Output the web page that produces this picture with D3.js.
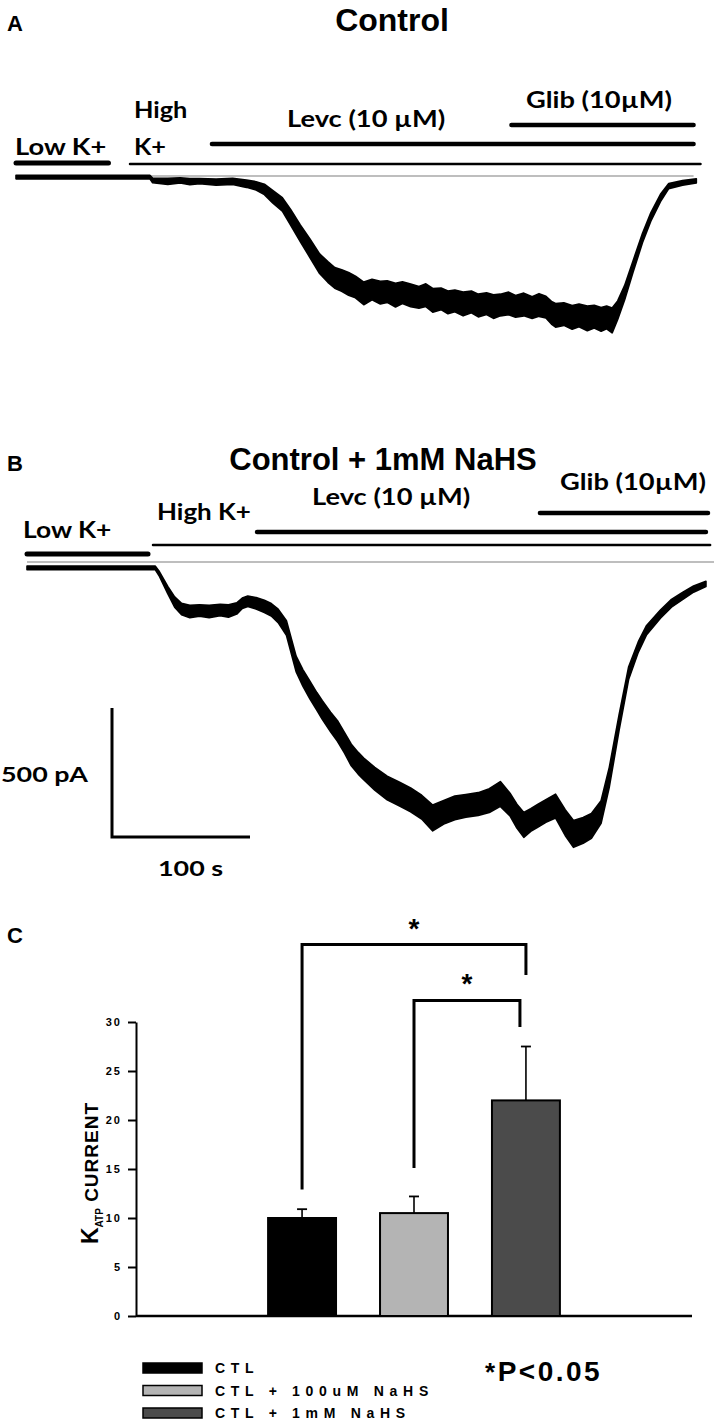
<!DOCTYPE html>
<html><head><meta charset="utf-8">
<script src="https://cdn.jsdelivr.net/npm/d3@7"></script>
<style>body{margin:0;background:#fff}svg{display:block}</style>
</head><body>
<svg id="c" width="714" height="1422"></svg>
<script>
// ---------- DATA ----------
// Panel A trace (time s, current pA, half-width of noise band pA)
const timeA    = [0,97,99,110,119,126,133,145,157,167,174,180,186,193,199,206,213,220,226,231,236,241,246,252,258,264,269,275,280,286,292,297,302,308,313,318,324,330,335,341,346,351,357,362,368,374,379,384,388,391,397,403,408,414,419,424,428,432,436,441,447,454,460,467,473,483,493];
const currentA = [-4,-4,-17,-21,-17,-22,-20,-24,-21,-30,-38,-52,-80,-110,-160,-222,-280,-340,-372,-395,-405,-418,-430,-455,-440,-452,-448,-462,-452,-463,-470,-462,-482,-476,-490,-484,-496,-488,-502,-495,-506,-500,-494,-505,-498,-510,-500,-508,-530,-540,-535,-548,-540,-552,-545,-556,-548,-560,-520,-453,-353,-240,-159,-85,-39,-27,-19];
const noiseA   = [7,7,9,12,10,12,10,12,12,14,16,20,24,26,30,32,36,38,40,40,42,44,42,44,40,44,42,46,42,44,42,44,46,42,44,42,46,42,44,42,46,42,44,42,44,42,44,42,44,46,44,46,44,48,44,46,44,48,36,28,22,18,16,14,10,9,8];
// Panel B trace
const timeB    = [0,93,96,102,107,112,118,125,132,140,146,152,156,160,166,172,177,182,188,195,200,205,210,214,220,225,230,235,240,244,252,261,270,278,286,294,302,310,318,327,335,343,350,355,360,365,370,376,383,390,396,403,409,416,422,429,436,443,449,459,467,475,483,492];
const currentB = [-23,-23,-47,-109,-155,-182,-192,-188,-192,-186,-190,-180,-160,-152,-160,-172,-185,-209,-256,-395,-450,-496,-540,-574,-620,-655,-700,-748,-780,-802,-840,-876,-900,-922,-950,-992,-970,-953,-945,-938,-925,-899,-940,-985,-1019,-1000,-984,-965,-946,-1010,-1054,-1040,-1023,-969,-833,-624,-430,-329,-264,-202,-160,-132,-105,-85];
const noiseB   = [7,7,9,14,20,22,24,22,24,22,24,22,20,20,22,24,24,26,28,30,32,34,34,36,38,40,40,42,42,42,44,46,46,46,46,50,46,46,44,44,46,48,44,46,48,44,44,44,46,50,52,50,48,44,38,30,24,20,18,16,15,14,12,10];
// Solution application periods (s)
const solutionsA = [
  {name:"Low K+", start:0, end:67},
  {name:"High K+", start:82.6, end:496},
  {name:"Levc (10 µM)", start:142, end:491},
  {name:"Glib (10µM)", start:359, end:491}
];
const solutionsB = [
  {name:"Low K+", start:0, end:87.7},
  {name:"High K+", start:91.3, end:495},
  {name:"Levc (10 µM)", start:166.7, end:492},
  {name:"Glib (10µM)", start:371.7, end:493.5}
];
const baselineSpan = [0, 491];
const scaleBar = {current:500, time:100};
// Panel C
const groups = ["CTL", "CTL + 100uM NaHS", "CTL + 1mM NaHS"];
const means  = [10.0, 10.5, 22.0];
const errors = [0.9, 1.7, 5.5];
const yTicks = [0,5,10,15,20,25,30];
const comparisons = [
  {a:0, b:2, top:37.9, leftEnd:12.9, rightEnd:34.8},
  {a:1, b:2, top:32.2, leftEnd:15.1, rightEnd:29.5}
];
const barColors = ["#000000", "#b4b4b4", "#4b4b4b"];

// ---------- DRAW ----------
const svg = d3.select("#c");
const CAL = "Lato, 'Open Sans', sans-serif";
const ARB = "'Liberation Sans', Arial, sans-serif";

function txt(s, x, y, size, opts={}) {
  const t = svg.append("text")
    .attr("transform", `translate(${x},${y}) scale(${opts.sx||1},1)`)
    .attr("font-family", opts.family || CAL)
    .attr("font-size", size)
    .attr("font-weight", opts.weight || "normal")
    .attr("text-anchor", opts.anchor || "start")
    .attr("fill", "#000")
    .text(s);
  if (opts.ls) t.attr("letter-spacing", opts.ls);
  return t;
}
const lab = (s, x, y, sx) => txt(s, x, y, 22, {weight: "bold", sx: sx || 1.24});

const pxPerSec = 1.38;
const pxPerPA = 129/500;

function panel(cfg) {
  const x = d3.scaleLinear().domain([0, 500]).range([cfg.x0, cfg.x0 + 500*pxPerSec]);
  const y = d3.scaleLinear().domain([0, -500]).range([cfg.y0, cfg.y0 + 500*pxPerPA]);
  cfg.solutions.forEach((s, k) => {
    svg.append("line")
      .attr("x1", x(s.start)).attr("x2", x(s.end))
      .attr("y1", cfg.barY[k]).attr("y2", cfg.barY[k])
      .attr("stroke", "#000").attr("stroke-width", cfg.barW[k])
      .attr("stroke-linecap", "round");
  });
  svg.append("line")
    .attr("x1", x(baselineSpan[0])).attr("x2", x(baselineSpan[1]) + cfg.baseExt)
    .attr("y1", y(0)).attr("y2", y(0))
    .attr("stroke", "#a8a8a8").attr("stroke-width", 1.5);
  const data = cfg.t.map((t, k) => ({t, i: cfg.i[k], n: cfg.n[k]}));
  const area = d3.area()
    .x(d => x(d.t))
    .y0(d => y(d.i + d.n))
    .y1(d => y(d.i - d.n));
  svg.append("path").datum(data)
    .attr("d", area)
    .attr("fill", "#000").attr("stroke", "#000").attr("stroke-width", 1.6)
    .attr("stroke-linejoin", "round");
  return {x, y};
}

// Panel A
txt("A", 7, 31, 22, {family: ARB, weight: "bold"});
txt("Control", 392, 31, 32, {family: ARB, weight: "bold", anchor: "middle"});
const pA = panel({x0: 16, y0: 176, t: timeA, i: currentA, n: noiseA, solutions: solutionsA,
  barY: [163, 164, 144, 125], barW: [5, 2.5, 4.5, 4.5], baseExt: 0});
lab("Low K+", 15, 155);
lab("High", 134, 118, 1.15);
lab("K+", 134, 155, 1.15);
lab("Levc (10 µM)", 287, 127);
lab("Glib (10µM)", 526, 108);

// Panel B
txt("B", 7, 471, 22, {family: ARB, weight: "bold"});
txt("Control + 1mM NaHS", 383, 470, 31, {family: ARB, weight: "bold", anchor: "middle"});
const pB = panel({x0: 27, y0: 562, t: timeB, i: currentB, n: noiseB, solutions: solutionsB,
  barY: [554, 545, 532, 513], barW: [5, 2.5, 4.5, 4.5], baseExt: 10});
lab("Low K+", 23, 538, 1.2);
lab("High K+", 157, 520, 1.18);
lab("Levc (10 µM)", 312, 505);
lab("Glib (10µM)", 560, 490);

// scale bar
const sbX = 112, sbY = 837;
const lenI = pB.y(-scaleBar.current) - pB.y(0);
const lenT = pB.x(scaleBar.time) - pB.x(0);
svg.append("path")
  .attr("d", `M${sbX},${sbY - lenI}V${sbY}H${sbX + lenT}`)
  .attr("fill", "none").attr("stroke", "#000").attr("stroke-width", 3);
txt("500 pA", 1, 782, 21, {weight: "bold", sx: 1.28});
txt("100 s", 158, 876, 21, {weight: "bold", sx: 1.28});

// Panel C
txt("C", 7, 943, 22, {family: ARB, weight: "bold"});
const yC = d3.scaleLinear().domain([0, 30]).range([1316, 1022]);
const xC = d3.scaleBand().domain(groups).range([136, 692]).paddingInner(0.393).paddingOuter(1.18);

const yAxis = svg.append("g").attr("transform", "translate(136,0)")
  .call(d3.axisLeft(yC).tickValues(yTicks).tickSize(8).tickSizeOuter(0).tickPadding(6));
yAxis.select(".domain").attr("stroke-width", 2);
yAxis.selectAll(".tick line").attr("stroke-width", 2);
yAxis.selectAll(".tick text").attr("font-family", ARB).attr("font-weight", "bold")
  .attr("font-size", 11).attr("letter-spacing", 2);

svg.append("line").attr("x1", 136).attr("x2", 692).attr("y1", yC(0)).attr("y2", yC(0))
  .attr("stroke", "#000").attr("stroke-width", 2.5);

groups.forEach((g, k) => {
  const cx = xC(g) + xC.bandwidth()/2;
  svg.append("line").attr("x1", cx).attr("x2", cx)
    .attr("y1", yC(means[k])).attr("y2", yC(means[k] + errors[k]))
    .attr("stroke", "#000").attr("stroke-width", 1.6);
  svg.append("line").attr("x1", cx - 5).attr("x2", cx + 5)
    .attr("y1", yC(means[k] + errors[k])).attr("y2", yC(means[k] + errors[k]))
    .attr("stroke", "#000").attr("stroke-width", 1.8);
  svg.append("rect")
    .attr("x", xC(g)).attr("y", yC(means[k]))
    .attr("width", xC.bandwidth()).attr("height", yC(0) - yC(means[k]))
    .attr("fill", barColors[k]).attr("stroke", "#000").attr("stroke-width", 2);
});

comparisons.forEach((c, k) => {
  const xa = xC(groups[c.a]) + xC.bandwidth()/2;
  const xb = xC(groups[c.b]) + xC.bandwidth()/2 - (k === 1 ? 6 : 0);
  svg.append("path")
    .attr("d", `M${xa},${yC(c.leftEnd)}V${yC(c.top)}H${xb}V${yC(c.rightEnd)}`)
    .attr("fill", "none").attr("stroke", "#000").attr("stroke-width", 3);
  txt("*", (xa + xb)/2, yC(c.top) - 7, 28, {family: ARB, weight: "bold", anchor: "middle"});
});

// y-axis title
const yt = svg.append("text")
  .attr("transform", "translate(98,1173) rotate(-90)")
  .attr("font-family", ARB).attr("font-weight", "bold").attr("text-anchor", "middle")
  .attr("font-size", 19);
yt.append("tspan").text("K").attr("font-size", 23);
yt.append("tspan").text("ATP").attr("font-size", 10).attr("dy", 5);
yt.append("tspan").text(" CURRENT").attr("dy", -5).attr("letter-spacing", 1);

// legend
groups.forEach((g, k) => {
  const ly = 1368 + k*22.5;
  svg.append("rect").attr("x", 143).attr("y", ly - 5).attr("width", 59).attr("height", 10)
    .attr("fill", barColors[k]).attr("stroke", "#000").attr("stroke-width", 1.5);
  txt(g, 215, ly + 5, 14, {family: ARB, weight: "bold", ls: 5.7});
});
const pt = svg.append("text").attr("x", 485).attr("y", 1381)
  .attr("font-family", ARB).attr("font-weight", "bold").attr("font-size", 28)
  .attr("letter-spacing", 2.5);
pt.append("tspan").text("*").attr("font-size", 26);
pt.append("tspan").text("P<0.05");
</script>
</body></html>
